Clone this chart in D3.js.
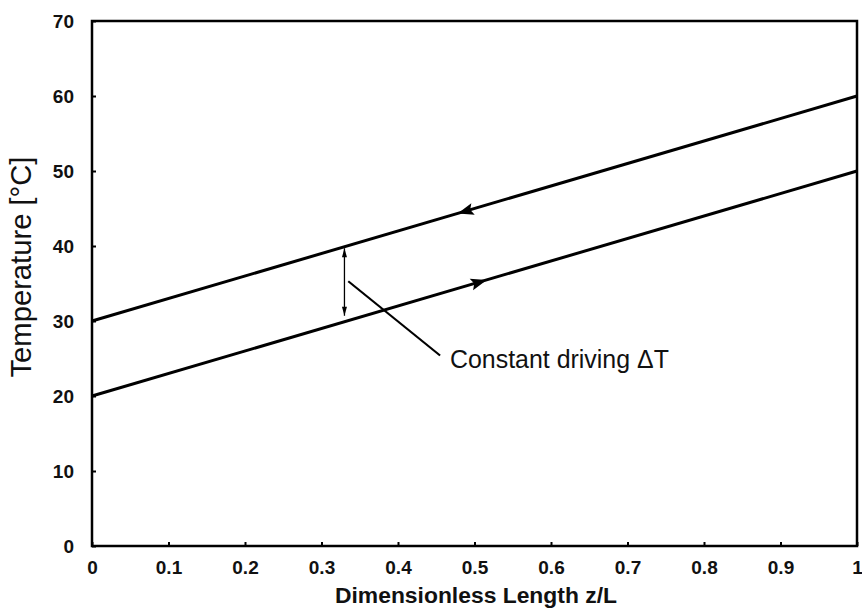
<!DOCTYPE html>
<html><head><meta charset="utf-8">
<script src="https://cdn.jsdelivr.net/npm/d3@7"></script>
<style>body{margin:0;background:#fff}svg{display:block}</style>
</head><body>
<svg id="c" width="862" height="612"></svg>
<script>
const xTicks=[0,0.1,0.2,0.3,0.4,0.5,0.6,0.7,0.8,0.9,1];
const yTicks=[0,10,20,30,40,50,60,70];
const hotLine=[{z:0,t:30},{z:1,t:60}];
const coldLine=[{z:0,t:20},{z:1,t:50}];
const hotArrowZ=0.478, coldArrowZ=0.516;
const deltaZ=0.33, deltaTop=39.7, deltaBottom=30.7;
const leader=[{z:0.335,t:35.3},{z:0.455,t:25.4}];
const labelText="Constant driving ΔT";
const xTitle="Dimensionless Length z/L";
const yTitle="Temperature [°C]";

const svg=d3.select("#c");
const m={l:92,r:5,t:21,b:66};
const W=862,H=612;
const x=d3.scaleLinear().domain([0,1]).range([m.l,W-m.r]);
const y=d3.scaleLinear().domain([0,70]).range([H-m.b,m.t]);
const font="Liberation Sans, Arial, sans-serif";

function fit(sel,target){
 const fs=+sel.attr("font-size");
 const w=sel.node().getComputedTextLength();
 if(w>0) sel.attr("font-size",fs*target/w);
}

// frame
svg.append("rect").attr("x",x(0)).attr("y",y(70)).attr("width",x(1)-x(0)).attr("height",y(0)-y(70))
 .attr("fill","none").attr("stroke","#000").attr("stroke-width",2.5);

const xa=svg.append("g").attr("transform",`translate(0,${y(0)})`)
 .call(d3.axisBottom(x).tickValues(xTicks).tickSizeInner(-4).tickSizeOuter(0).tickPadding(15).tickFormat(d=>d3.format("~g")(d)));
const ya=svg.append("g").attr("transform",`translate(${x(0)},0)`)
 .call(d3.axisLeft(y).tickValues(yTicks).tickSizeInner(-4).tickSizeOuter(0).tickPadding(18));
[xa,ya].forEach(a=>{
 a.select(".domain").remove();
 a.selectAll(".tick line").attr("stroke","#000").attr("stroke-width",2);
 a.selectAll("text").style("font-family",font).style("font-size","19px").style("font-weight","bold").attr("fill","#111");
});
xa.selectAll(".tick text").attr("dy","0.71em");
ya.selectAll(".tick text").attr("dy","0.36em");

const line=d3.line().x(d=>x(d.z)).y(d=>y(d.t));
[hotLine,coldLine].forEach(dd=>svg.append("path").datum(dd).attr("d",line)
 .attr("fill","none").attr("stroke","#000").attr("stroke-width",3));

function interp(dd,z){return dd[0].t+(dd[1].t-dd[0].t)*(z-dd[0].z)/(dd[1].z-dd[0].z);}
function arrowHead(dd,z,dir){
 const px=x(z),py=y(interp(dd,z));
 const ang=Math.atan2(y(dd[1].t)-y(dd[0].t),x(dd[1].z)-x(dd[0].z))*180/Math.PI+(dir<0?180:0);
 svg.append("path").attr("d","M0,0 L-16,-6 L-13,0 L-16,6 Z").attr("fill","#000")
  .attr("transform",`translate(${px},${py}) rotate(${ang})`);
}
arrowHead(hotLine,hotArrowZ,-1);
arrowHead(coldLine,coldArrowZ,1);

// delta arrow
const dx=x(deltaZ);
svg.append("line").attr("x1",dx).attr("x2",dx).attr("y1",y(deltaTop)).attr("y2",y(deltaBottom)).attr("stroke","#000").attr("stroke-width",1.3);
svg.append("path").attr("d",`M${dx},${y(deltaTop)} l-2.5,9 l5,0 Z`).attr("fill","#000");
svg.append("path").attr("d",`M${dx},${y(deltaBottom)} l-2.5,-9 l5,0 Z`).attr("fill","#000");
svg.append("path").datum(leader).attr("d",line).attr("fill","none").attr("stroke","#000").attr("stroke-width",2.2);
const lab=svg.append("text").attr("x",450).attr("y",368)
 .attr("font-family",font).attr("font-size",22).attr("fill","#111").text(labelText);
fit(lab,219);

const xt=svg.append("text").attr("x",476).attr("y",603).attr("text-anchor","middle")
 .attr("font-family",font).attr("font-size",21).attr("font-weight","bold").attr("fill","#111").text(xTitle);
fit(xt,282);
const yt=svg.append("text").attr("transform",`translate(31,267) rotate(-90)`).attr("text-anchor","middle")
 .attr("font-family",font).attr("font-size",22).attr("fill","#111").text(yTitle);
fit(yt,221);
</script>
</body></html>
